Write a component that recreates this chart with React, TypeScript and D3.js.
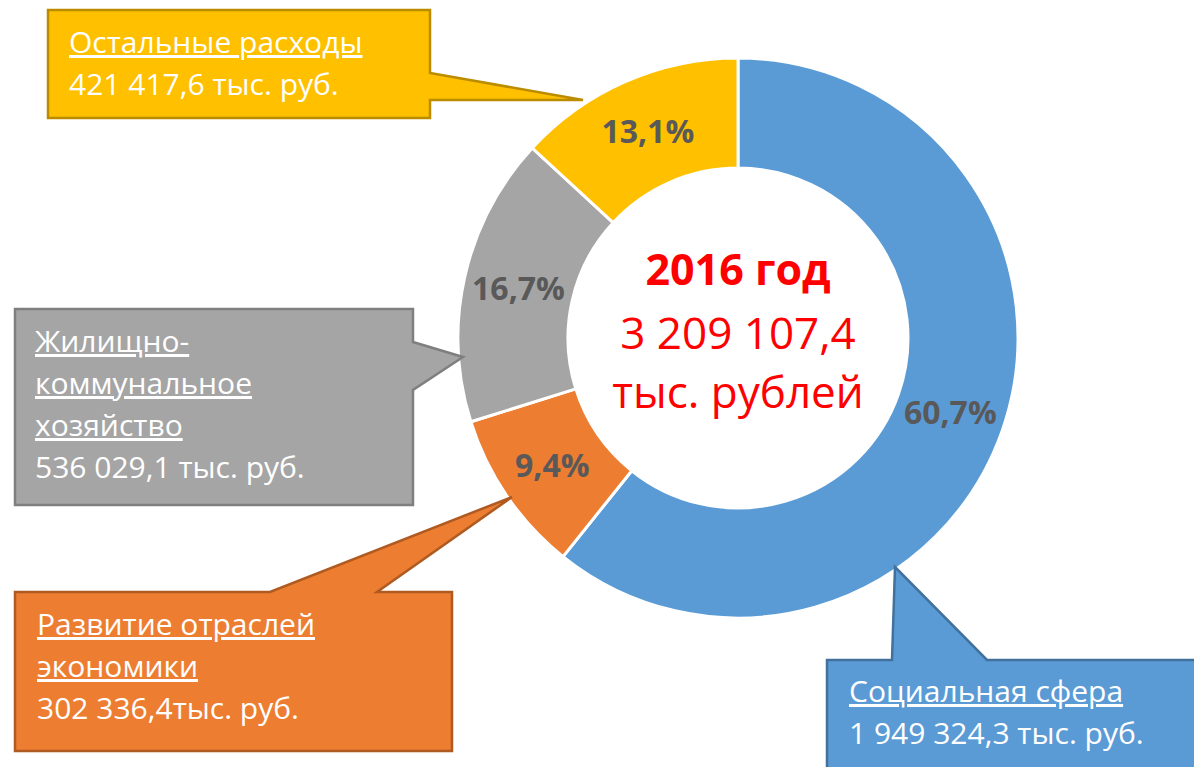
import React from "react";
import * as d3 from "d3";

const categories = ["Социальная сфера", "Развитие отраслей экономики", "Жилищно-коммунальное хозяйство", "Остальные расходы"];
const values = [1949324.3, 302336.4, 536029.1, 421417.6];
const percentLabels = ["60,7%", "9,4%", "16,7%", "13,1%"];
const nameLines = [["Социальная сфера"], ["Развитие отраслей", "экономики"], ["Жилищно-", "коммунальное", "хозяйство"], ["Остальные расходы"]];
const amountLabels = ["1 949 324,3 тыс. руб.", "302 336,4тыс. руб.", "536 029,1 тыс. руб.", "421 417,6 тыс. руб."];
const fills = ["#5B9BD5", "#ED7D31", "#A5A5A5", "#FFC000"];
const borders = ["#41719C", "#AE5A21", "#7F7F7F", "#BC8C00"];
const centerLines = ["2016 год", "3 209 107,4", "тыс. рублей"];

// callout layout (box outline incl. pointer) and text anchor
const callouts = [
  { path: [[827, 660], [892, 660], [895, 567], [987, 660], [1200, 660], [1200, 775], [827, 775]], tx: 849, ty: 702 },
  { path: [[15, 592], [270, 592], [512, 497], [377, 592], [452, 592], [452, 751], [15, 751]], tx: 37, ty: 635 },
  { path: [[15, 309], [413, 309], [413, 342], [463, 357], [413, 390], [413, 505], [15, 505]], tx: 35, ty: 352 },
  { path: [[48, 10], [430, 10], [430, 73], [583, 100], [430, 100], [430, 118], [48, 118]], tx: 69, ty: 53 },
];

const W = 1194, H = 767;
const cx = 738, cy = 338, rOuter = 280, rInner = 170;
const FONT = "'Open Sans', 'Noto Sans', sans-serif";

export default function App() {
  const pie = d3.pie<number>().sort(null).value((d) => d)(values);
  const arc = d3.arc<d3.PieArcDatum<number>>().innerRadius(rInner).outerRadius(rOuter);
  const line = d3.line();
  const lineH = 42;
  return (
    <svg width={W} height={H} style={{ position: "absolute", left: 0, top: 0, background: "#fff" }} fontFamily={FONT}>
      <g transform={`translate(${cx},${cy})`}>
        {pie.map((p, i) => (
          <path key={i} d={arc(p) || ""} fill={fills[i]} stroke="#fff" strokeWidth={3} />
        ))}
        {pie.map((p, i) => {
          const [x, y] = arc.centroid(p);
          return (
            <text key={"l" + i} x={x} y={y} dy="0.36em" textAnchor="middle" fontSize={32} fontWeight="bold" fill="#595959">
              {percentLabels[i]}
            </text>
          );
        })}
        <text x={0} y={-53} textAnchor="middle" fontSize={43} fontWeight="bold" fill="#FF0000">{centerLines[0]}</text>
        <text x={0} y={11} textAnchor="middle" fontSize={44} fill="#FF0000">{centerLines[1]}</text>
        <text x={0} y={70} textAnchor="middle" fontSize={44} fill="#FF0000">{centerLines[2]}</text>
      </g>
      {callouts.map((c, i) => (
        <g key={"c" + i}>
          <path d={(line(c.path as [number, number][]) || "") + "Z"} fill={fills[i]} stroke={borders[i]} strokeWidth={2.5} strokeLinejoin="miter" />
          {nameLines[i].map((t, j) => (
            <text key={j} x={c.tx} y={c.ty + j * lineH} fontSize={30} fill="#fff" textDecoration="underline">{t}</text>
          ))}
          <text x={c.tx} y={c.ty + nameLines[i].length * lineH} fontSize={30} fill="#fff">{amountLabels[i]}</text>
        </g>
      ))}
    </svg>
  );
}
